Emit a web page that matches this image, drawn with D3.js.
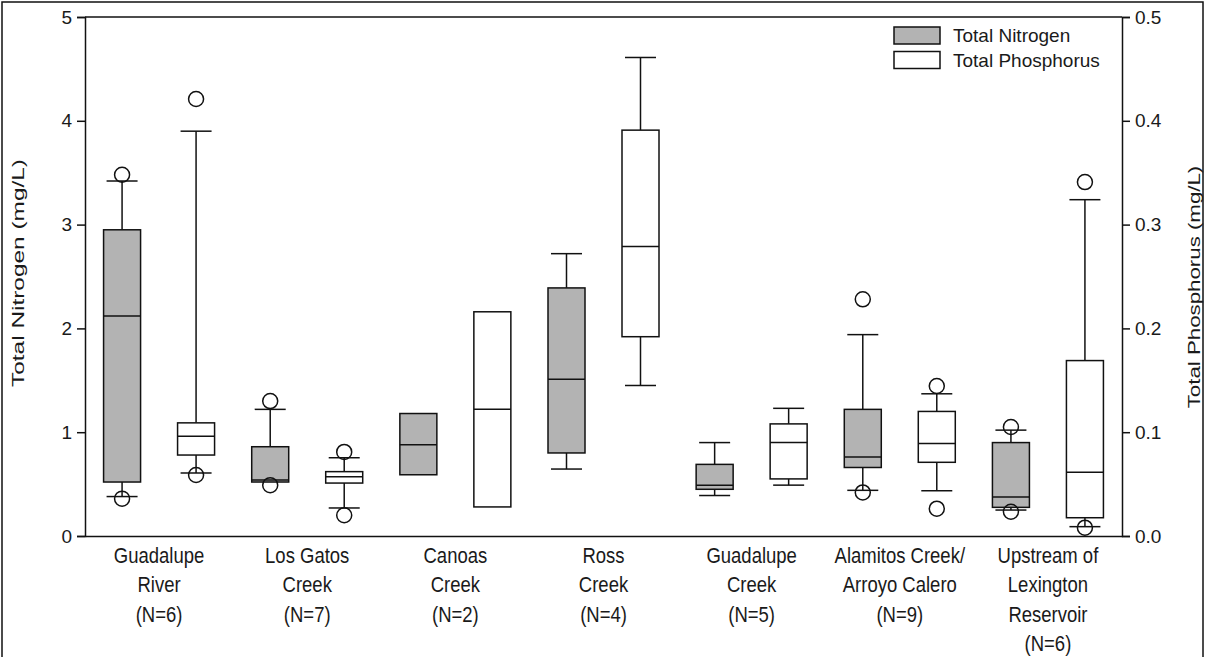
<!DOCTYPE html>
<html>
<head>
<meta charset="utf-8">
<script src="https://cdn.jsdelivr.net/npm/d3@7"></script>
<style>
  html, body { margin: 0; padding: 0; background: #fff; }
  svg { display: block; }
  text { font-family: "Liberation Sans", Arial, sans-serif; fill: #1a1a1a; }
</style>
</head>
<body>
<svg id="chart" width="1206" height="657"></svg>
<script>
// ---- data ----
const categories = ["Guadalupe River", "Los Gatos Creek", "Canoas Creek", "Ross Creek",
  "Guadalupe Creek", "Alamitos Creek/Arroyo Calero", "Upstream of Lexington Reservoir"];
const categoryLines = [
  ["Guadalupe", "River", "(N=6)"],
  ["Los Gatos", "Creek", "(N=7)"],
  ["Canoas", "Creek", "(N=2)"],
  ["Ross", "Creek", "(N=4)"],
  ["Guadalupe", "Creek", "(N=5)"],
  ["Alamitos Creek/", "Arroyo Calero", "(N=9)"],
  ["Upstream of", "Lexington", "Reservoir", "(N=6)"]
];
// Total Nitrogen (mg/L)
const nLow     = [0.38, null, null, 0.645, 0.39, 0.44, 0.25];
const nQ1      = [0.52, 0.52, 0.59, 0.80, 0.45, 0.66, 0.276];
const nMedian  = [2.12, 0.54, 0.88, 1.51, 0.49, 0.76, 0.376];
const nQ3      = [2.95, 0.86, 1.18, 2.39, 0.69, 1.22, 0.90];
const nHigh    = [3.42, 1.22, null, 2.72, 0.90, 1.94, 1.02];
const nOutliers = [[3.48, 0.36], [1.30, 0.49], [], [], [], [2.28, 0.42], [1.05, 0.234]];
// Total Phosphorus (mg/L)
const pLow     = [0.0607, 0.027, null, 0.145, 0.049, 0.0436, 0.009];
const pQ1      = [0.078, 0.051, 0.028, 0.192, 0.055, 0.071, 0.0176];
const pMedian  = [0.096, 0.057, 0.122, 0.279, 0.090, 0.089, 0.0614];
const pQ3      = [0.109, 0.062, 0.216, 0.391, 0.108, 0.120, 0.169];
const pHigh    = [0.390, 0.0754, null, 0.461, 0.123, 0.137, 0.324];
const pOutliers = [[0.421, 0.0588], [0.081, 0.020], [], [], [], [0.1445, 0.0263], [0.341, 0.008]];

const nTicks = [0, 1, 2, 3, 4, 5];
const pTicks = [0.0, 0.1, 0.2, 0.3, 0.4, 0.5];
const seriesNames = ["Total Nitrogen", "Total Phosphorus"];
const seriesFill = ["#b3b3b3", "#ffffff"];

// ---- layout ----
const svg = d3.select("#chart");
const L = 85, R = 1122, T = 17, B = 536;
const stroke = "#111";

const x = d3.scaleBand().domain(categories).range([L, R]).padding(0);
const yN = d3.scaleLinear().domain([0, 5]).range([B, T]);
const yP = d3.scaleLinear().domain([0, 0.5]).range([B, T]);
const offset = d3.scaleOrdinal().domain(seriesNames).range([-37, 37]);
const boxW = 37, capW = 31, r = 7.5;

// figure border
svg.append("rect").attr("x", 2).attr("y", 2).attr("width", 1201).attr("height", 700)
  .attr("fill", "none").attr("stroke", stroke).attr("stroke-width", 1.5);

// plot frame (top line)
svg.append("line").attr("x1", L).attr("x2", R).attr("y1", T).attr("y2", T)
  .attr("stroke", stroke).attr("stroke-width", 1.5);

// axes
const axL = d3.axisLeft(yN).tickValues(nTicks).tickFormat(d3.format("d")).tickSize(8).tickPadding(5);
const gL = svg.append("g").attr("transform", `translate(${L},0)`).call(axL);
const axR = d3.axisRight(yP).tickValues(pTicks).tickFormat(d3.format(".1f")).tickSize(8).tickPadding(5);
const gR = svg.append("g").attr("transform", `translate(${R},0)`).call(axR);
const axB = d3.axisBottom(x).tickSize(0).tickFormat("");
const gB = svg.append("g").attr("transform", `translate(0,${B})`).call(axB);
[gL, gR, gB].forEach(g => {
  g.select(".domain").attr("stroke", stroke).attr("stroke-width", 1.5);
  g.selectAll(".tick line").attr("stroke", stroke).attr("stroke-width", 1.5);
  g.selectAll(".tick text").attr("font-size", 19).attr("font-family", "Liberation Sans, Arial, sans-serif").attr("fill", "#1a1a1a");
});
gB.selectAll(".tick").remove();

// axis titles
svg.append("text").attr("transform", "translate(24,273) rotate(-90) scale(1.48,1)")
  .attr("text-anchor", "middle").attr("font-size", 16.5).text("Total Nitrogen (mg/L)");
svg.append("text").attr("transform", "translate(1200,287) rotate(-90) scale(1.35,1)")
  .attr("text-anchor", "middle").attr("font-size", 16.5).text("Total Phosphorus (mg/L)");

// category labels
categories.forEach((c, i) => {
  const cx = x(c) + x.bandwidth() / 2;
  categoryLines[i].forEach((line, j) => {
    svg.append("text").attr("transform", `translate(${cx},${563 + j * 29.3}) scale(1,1.2)`)
      .attr("text-anchor", "middle").attr("font-size", 18.5).text(line);
  });
});

// boxes
function drawSeries(name, y, low, q1, med, q3, high, outs, fill) {
  const g = svg.append("g");
  categories.forEach((c, i) => {
    const cx = x(c) + x.bandwidth() / 2 + offset(name);
    const gi = g.append("g");
    if (high[i] != null) {
      gi.append("line").attr("x1", cx).attr("x2", cx).attr("y1", y(q3[i])).attr("y2", y(high[i])).attr("stroke", stroke).attr("stroke-width", 1.5);
      gi.append("line").attr("x1", cx - capW / 2).attr("x2", cx + capW / 2).attr("y1", y(high[i])).attr("y2", y(high[i])).attr("stroke", stroke).attr("stroke-width", 1.5);
    }
    if (low[i] != null) {
      gi.append("line").attr("x1", cx).attr("x2", cx).attr("y1", y(q1[i])).attr("y2", y(low[i])).attr("stroke", stroke).attr("stroke-width", 1.5);
      gi.append("line").attr("x1", cx - capW / 2).attr("x2", cx + capW / 2).attr("y1", y(low[i])).attr("y2", y(low[i])).attr("stroke", stroke).attr("stroke-width", 1.5);
    }
    gi.append("rect").attr("x", cx - boxW / 2).attr("width", boxW)
      .attr("y", y(q3[i])).attr("height", y(q1[i]) - y(q3[i]))
      .attr("fill", fill).attr("stroke", stroke).attr("stroke-width", 1.5);
    gi.append("line").attr("x1", cx - boxW / 2).attr("x2", cx + boxW / 2).attr("y1", y(med[i])).attr("y2", y(med[i])).attr("stroke", stroke).attr("stroke-width", 1.5);
    outs[i].forEach(v => {
      gi.append("circle").attr("cx", cx).attr("cy", y(v)).attr("r", r)
        .attr("fill", "none").attr("stroke", stroke).attr("stroke-width", 1.5);
    });
  });
}
drawSeries(seriesNames[0], yN, nLow, nQ1, nMedian, nQ3, nHigh, nOutliers, seriesFill[0]);
drawSeries(seriesNames[1], yP, pLow, pQ1, pMedian, pQ3, pHigh, pOutliers, seriesFill[1]);

// legend
const lg = svg.append("g").attr("transform", "translate(894,27)");
seriesNames.forEach((s, i) => {
  lg.append("rect").attr("x", 0).attr("y", i * 24.5).attr("width", 46).attr("height", 17)
    .attr("fill", seriesFill[i]).attr("stroke", stroke).attr("stroke-width", 1.5);
  lg.append("text").attr("x", 59).attr("y", i * 24.5 + 15).attr("font-size", 19).text(s);
});
</script>
</body>
</html>
